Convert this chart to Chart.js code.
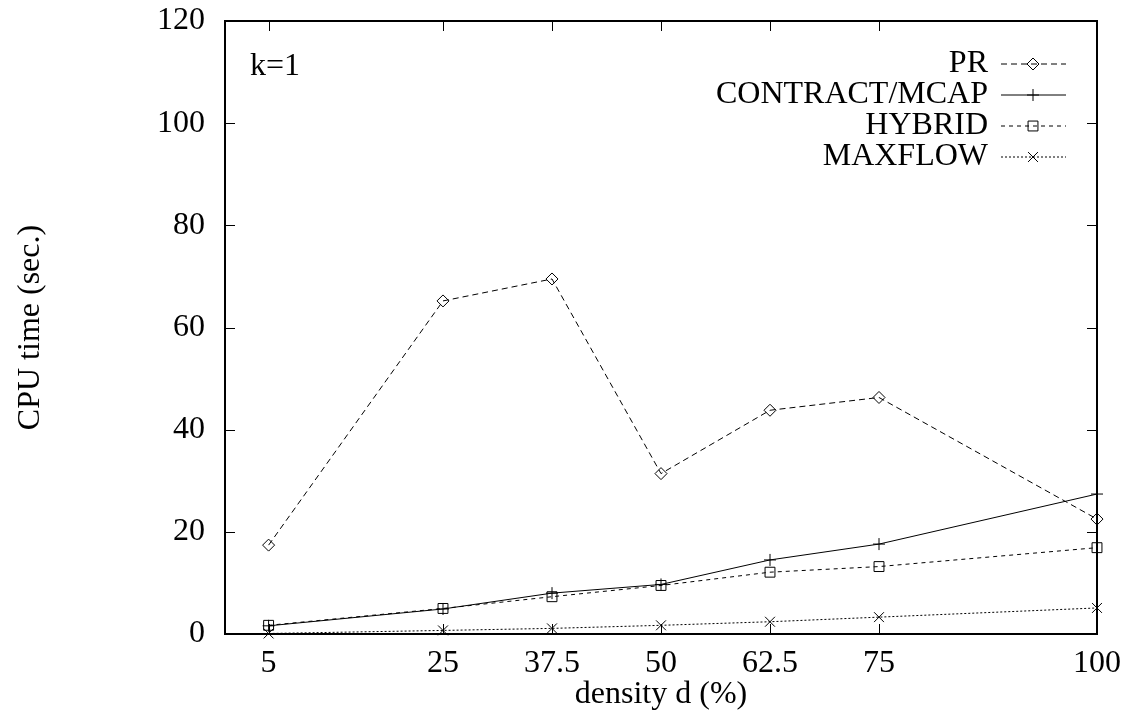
<!DOCTYPE html>
<html lang="en">
<head>
  <meta charset="UTF-8">
  <title>CPU time vs density</title>
  <script src="https://cdn.jsdelivr.net/npm/chart.js"></script>
  <style>
    html, body { margin: 0; padding: 0; background: #fff; }
    #wrap { width: 1131px; height: 722px; }
  </style>
</head>
<body>
  <div id="wrap"><canvas id="cpuChart"></canvas></div>
  <script>
    // values (k=1)
    const densities = [5, 25, 37.5, 50, 62.5, 75, 100];
    const prTimes = [17.4, 65.2, 69.5, 31.4, 43.8, 46.3, 22.5];
    const contractTimes = [1.6, 4.9, 8.0, 9.7, 14.5, 17.6, 27.4];
    const hybridTimes = [1.7, 5.0, 7.3, 9.5, 12.1, 13.2, 16.9];
    const maxflowTimes = [0.1, 0.7, 1.1, 1.7, 2.4, 3.3, 5.1];
    const xTickValues = [5, 25, 37.5, 50, 62.5, 75, 100];
    const yTickValues = [0, 20, 40, 60, 80, 100, 120];

    const FONT = "'Liberation Serif', 'Times New Roman', serif";
    const FS = 32;

    function pts(values) {
      return densities.map((d, i) => ({ x: d, y: values[i] }));
    }

    function series(label, values, dash, style, radius) {
      return {
        label: label,
        data: pts(values),
        borderColor: '#000',
        borderWidth: 1,
        borderDash: dash,
        pointStyle: style,
        pointRadius: radius,
        pointBorderColor: '#000',
        pointBorderWidth: 1,
        pointBackgroundColor: 'rgba(0,0,0,0)',
        tension: 0,
        clip: false
      };
    }

    // draws the gnuplot-style frame, inward ticks, the k=1 note and the key
    const framePlugin = {
      id: 'frame',
      afterDatasetsDraw(chart) {
        const { ctx, chartArea: a, scales } = chart;
        ctx.save();
        ctx.strokeStyle = '#000';
        ctx.lineWidth = 1;
        ctx.setLineDash([]);
        ctx.beginPath();
        xTickValues.forEach(v => {
          const px = Math.round(scales.x.getPixelForValue(v)) + 0.5;
          ctx.moveTo(px, a.bottom); ctx.lineTo(px, a.bottom - 10);
          ctx.moveTo(px, a.top); ctx.lineTo(px, a.top + 10);
        });
        yTickValues.forEach(v => {
          const py = Math.round(scales.y.getPixelForValue(v)) + 0.5;
          ctx.moveTo(a.left, py); ctx.lineTo(a.left + 10, py);
          ctx.moveTo(a.right, py); ctx.lineTo(a.right - 10, py);
        });
        ctx.stroke();
        ctx.lineWidth = 2;
        ctx.strokeRect(a.left, a.top, a.right - a.left, a.bottom - a.top);

        ctx.fillStyle = '#000';
        ctx.font = FS + 'px ' + FONT;
        ctx.textBaseline = 'middle';
        ctx.textAlign = 'left';
        ctx.fillText('k=1', a.left + 25, a.top + 46);

        // key
        chart.data.datasets.forEach((ds, i) => {
          const y = a.top + 43 + i * 31;
          const textRight = a.right - 109;
          ctx.fillStyle = '#000';
          ctx.textAlign = 'right';
          ctx.fillText(ds.label, textRight, y);
          ctx.lineWidth = 1;
          ctx.setLineDash(ds.borderDash);
          ctx.beginPath();
          ctx.moveTo(textRight + 13, y);
          ctx.lineTo(a.right - 31, y);
          ctx.stroke();
          ctx.setLineDash([]);
          ctx.fillStyle = 'rgba(0,0,0,0)';
          Chart.helpers.drawPoint(ctx, {
            pointStyle: ds.pointStyle, radius: ds.pointRadius, rotation: 0, borderWidth: 1
          }, textRight + 45, y);
        });
        ctx.restore();
      }
    };

    new Chart(document.getElementById('cpuChart'), {
      type: 'line',
      data: {
        datasets: [
          series('PR', prTimes, [6, 4], 'rectRot', 6),
          series('CONTRACT/MCAP', contractTimes, [], 'cross', 6),
          series('HYBRID', hybridTimes, [4, 4], 'rect', 7),
          series('MAXFLOW', maxflowTimes, [2, 2], 'crossRot', 7)
        ]
      },
      options: {
        responsive: true,
        maintainAspectRatio: false,
        animation: false,
        events: [],
        layout: { padding: { top: 21, right: 32, bottom: 0, left: 0 } },
        plugins: { legend: { display: false }, tooltip: { enabled: false } },
        scales: {
          x: {
            type: 'linear',
            min: 0,
            max: 100,
            grid: { display: false, drawTicks: false },
            border: { display: false },
            afterBuildTicks: s => { s.ticks = xTickValues.map(v => ({ value: v })); },
            afterFit: s => { s.height = 88; },
            ticks: {
              color: '#000',
              padding: 10,
              maxRotation: 0,
              autoSkip: false,
              font: { family: FONT, size: FS },
              callback: v => String(v)
            },
            title: {
              display: true,
              text: 'density d (%)',
              color: '#000',
              padding: 8,
              font: { family: FONT, size: FS }
            }
          },
          y: {
            min: 0,
            max: 120,
            grid: { display: false, drawTicks: false },
            border: { display: false },
            afterBuildTicks: s => { s.ticks = yTickValues.map(v => ({ value: v })); },
            afterFit: s => { s.width = 225; s.paddingTop = 0; s.paddingBottom = 0; },
            ticks: {
              color: '#000',
              padding: 20,
              font: { family: FONT, size: FS }
            },
            title: {
              display: true,
              text: 'CPU time (sec.)',
              color: '#000',
              padding: 11,
              font: { family: FONT, size: FS }
            }
          }
        }
      },
      plugins: [framePlugin]
    });
  </script>
</body>
</html>
